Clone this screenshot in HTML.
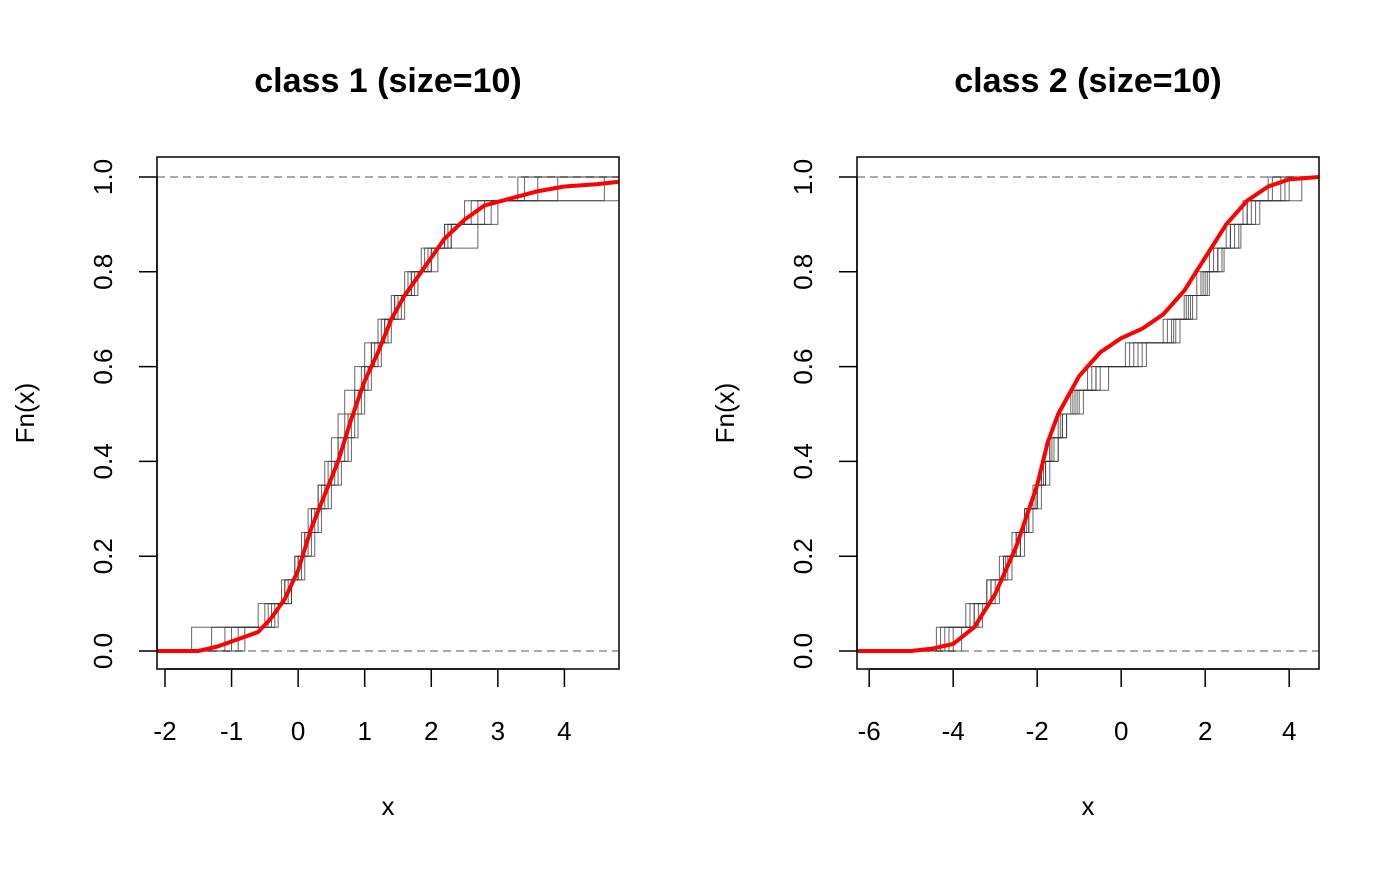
<!DOCTYPE html>
<html><head><meta charset="utf-8"><style>
body{margin:0;background:#fff}
svg text{font-family:"Liberation Sans",Arial,sans-serif;fill:#000}
</style></head><body>
<svg id="c" width="1400" height="866" viewBox="0 0 1400 866"></svg>
<script>
// Panel 1 data
const p1Title = "class 1 (size=10)";
const p1XTicks = [-2,-1,0,1,2,3,4];
const p1YTicks = [0,0.2,0.4,0.6,0.8,1.0];
const p1MeanX = [-2.12,-1.5,-1.2,-1,-0.6,-0.4,-0.2,0,0.2,0.4,0.6,0.8,1.0,1.2,1.4,1.6,1.8,2.0,2.2,2.5,2.8,3.2,3.6,4.0,4.5,4.82];
const p1MeanY = [0,0,0.01,0.02,0.04,0.07,0.11,0.17,0.26,0.33,0.40,0.49,0.57,0.63,0.70,0.75,0.79,0.83,0.87,0.91,0.94,0.955,0.97,0.98,0.985,0.99];
const p1Samples = [
 [-1.6,-0.5,-0.2,-0.05,0.05,0.15,0.3,0.45,0.6,0.7,0.85,0.95,1.1,1.3,1.45,1.65,1.9,2.2,2.6,3.6],
 [-1.1,-0.3,-0.1,0.0,0.1,0.2,0.3,0.4,0.5,0.6,0.7,0.85,1.0,1.2,1.4,1.6,1.85,2.2,2.7,4.6],
 [-0.8,-0.4,-0.25,0.05,0.2,0.35,0.5,0.65,0.8,0.9,1.0,1.1,1.25,1.4,1.55,1.75,2.0,2.3,2.9,3.4],
 [-1.3,-0.6,-0.1,0.1,0.25,0.3,0.45,0.55,0.7,0.8,0.95,1.05,1.2,1.3,1.5,1.7,2.1,2.7,3.0,3.9],
 [-0.9,-0.35,-0.15,-0.05,0.1,0.25,0.4,0.6,0.75,0.85,0.9,1.0,1.15,1.35,1.6,1.8,2.0,2.3,2.5,3.3],
 [-1.0,-0.45,-0.2,0.0,0.15,0.2,0.35,0.5,0.6,0.75,0.85,1.0,1.1,1.25,1.45,1.7,1.95,2.25,2.8,4.9]
];
// Panel 2 data
const p2Title = "class 2 (size=10)";
const p2XTicks = [-6,-4,-2,0,2,4];
const p2YTicks = [0,0.2,0.4,0.6,0.8,1.0];
const p2MeanX = [-6.29,-5,-4.5,-4,-3.5,-3,-2.5,-2,-1.75,-1.5,-1,-0.5,0,0.5,1,1.5,2,2.5,3,3.5,4,4.71];
const p2MeanY = [0,0,0.005,0.015,0.05,0.12,0.22,0.35,0.44,0.50,0.58,0.63,0.66,0.68,0.71,0.76,0.83,0.90,0.95,0.98,0.995,1.0];
const p2Samples = [
 [-4.2,-3.5,-3.0,-2.7,-2.4,-2.2,-2.0,-1.8,-1.6,-1.4,-1.1,-0.6,0.3,1.2,1.6,1.9,2.2,2.6,3.0,3.6],
 [-4.0,-3.4,-3.1,-2.8,-2.5,-2.3,-2.1,-1.9,-1.7,-1.5,-1.2,-0.8,0.1,1.0,1.5,1.8,2.1,2.5,2.9,3.8],
 [-4.4,-3.6,-3.2,-2.9,-2.6,-2.3,-2.0,-1.8,-1.5,-1.3,-1.0,-0.5,0.5,1.3,1.7,2.0,2.4,2.8,3.2,4.0],
 [-3.8,-3.3,-2.9,-2.6,-2.3,-2.1,-1.9,-1.7,-1.5,-1.3,-0.9,-0.3,0.6,1.4,1.8,2.1,2.3,2.7,3.1,3.5],
 [-4.1,-3.5,-3.2,-2.8,-2.4,-2.2,-2.0,-1.85,-1.65,-1.4,-1.05,-0.7,0.2,1.1,1.55,1.95,2.3,2.6,3.0,4.3],
 [-4.3,-3.7,-3.1,-2.75,-2.5,-2.25,-2.05,-1.9,-1.7,-1.45,-1.15,-0.6,0.4,1.25,1.65,2.05,2.45,2.85,3.3,3.9]
];

const NS="http://www.w3.org/2000/svg";
const svg=document.getElementById('c');
function mk(tag,attrs,parent){const e=document.createElementNS(NS,tag);for(const k in attrs)e.setAttribute(k,attrs[k]);(parent||svg).appendChild(e);return e;}

function panel(id,L,R,xmin,xmax,title,xt,yt,mx,my,samples){
  const T=157,B=669,Y0=651,Y1=177;
  const sx=v=>L+(v-xmin)/(xmax-xmin)*(R-L);
  const sy=v=>Y0+(Y1-Y0)*v;
  const g=mk('g',{});
  
  
  const cp=mk('clipPath',{id:id+'clip'},g);mk('rect',{x:L,y:T,width:R-L,height:B-T},cp);
  const t=mk('text',{x:(L+R)/2,y:92,'text-anchor':'middle','font-size':'34','font-weight':'bold'},g);t.textContent=title;
  
  [0,1].forEach(v=>{const l=mk('line',{x1:L,x2:R,y1:sy(v),y2:sy(v),stroke:'#aaa','stroke-width':2,'stroke-dasharray':'8,5'},g);
    });
  const pg=mk('g',{'clip-path':'url(#'+id+'clip)'},g);
  samples.forEach((s,i)=>{
    const n=s.length;let d='M'+L+','+sy(0);
    s.forEach((v,k)=>{d+=' H'+sx(v)+' V'+sy((k+1)/n);});
    d+=' H'+R;
    const p=mk('path',{d:d,fill:'none',stroke:'#333','stroke-width':1,'stroke-opacity':0.75},pg);
    
  });
  const pts=mx.map((v,k)=>sx(v)+','+sy(my[k])).join(' ');
  const red=mk('polyline',{points:pts,fill:'none',stroke:'#ff0000','stroke-width':4,'stroke-linejoin':'round'},pg);
  
  const box=mk('rect',{x:L,y:T,width:R-L,height:B-T,fill:'none',stroke:'#000','stroke-width':1.5},g);
  
  const xa=mk('g',{},g);
  mk('line',{x1:sx(xt[0]),x2:sx(xt[xt.length-1]),y1:B,y2:B,stroke:'#000','stroke-width':1.5},xa);
  xt.forEach(v=>{mk('line',{x1:sx(v),x2:sx(v),y1:B,y2:B+18,stroke:'#000','stroke-width':1.5},xa);
    const tx=mk('text',{x:sx(v),y:740,'text-anchor':'middle','font-size':'26'},xa);tx.textContent=v;
    });
  const ya=mk('g',{},g);
  mk('line',{x1:L,x2:L,y1:sy(0),y2:sy(1),stroke:'#000','stroke-width':1.5},ya);
  yt.forEach(v=>{mk('line',{x1:L,x2:L-18,y1:sy(v),y2:sy(v),stroke:'#000','stroke-width':1.5},ya);
    const tx=mk('text',{x:0,y:0,'text-anchor':'middle','font-size':'26',transform:'translate('+(L-45)+','+sy(v)+') rotate(-90)'},ya);
    tx.textContent=v.toFixed(1);});
  const xl=mk('text',{x:(L+R)/2,y:815,'text-anchor':'middle','font-size':'26'},g);xl.textContent='x';
  
  const yl=mk('text',{x:0,y:0,'text-anchor':'middle','font-size':'26',transform:'translate('+(L-123)+','+((T+B)/2)+') rotate(-90)'},g);yl.textContent='Fn(x)';
  
}
panel('class1',157,619,-2.12,4.82,p1Title,p1XTicks,p1YTicks,p1MeanX,p1MeanY,p1Samples);
panel('class2',857,1319,-6.29,4.71,p2Title,p2XTicks,p2YTicks,p2MeanX,p2MeanY,p2Samples);
</script>
</body></html>
